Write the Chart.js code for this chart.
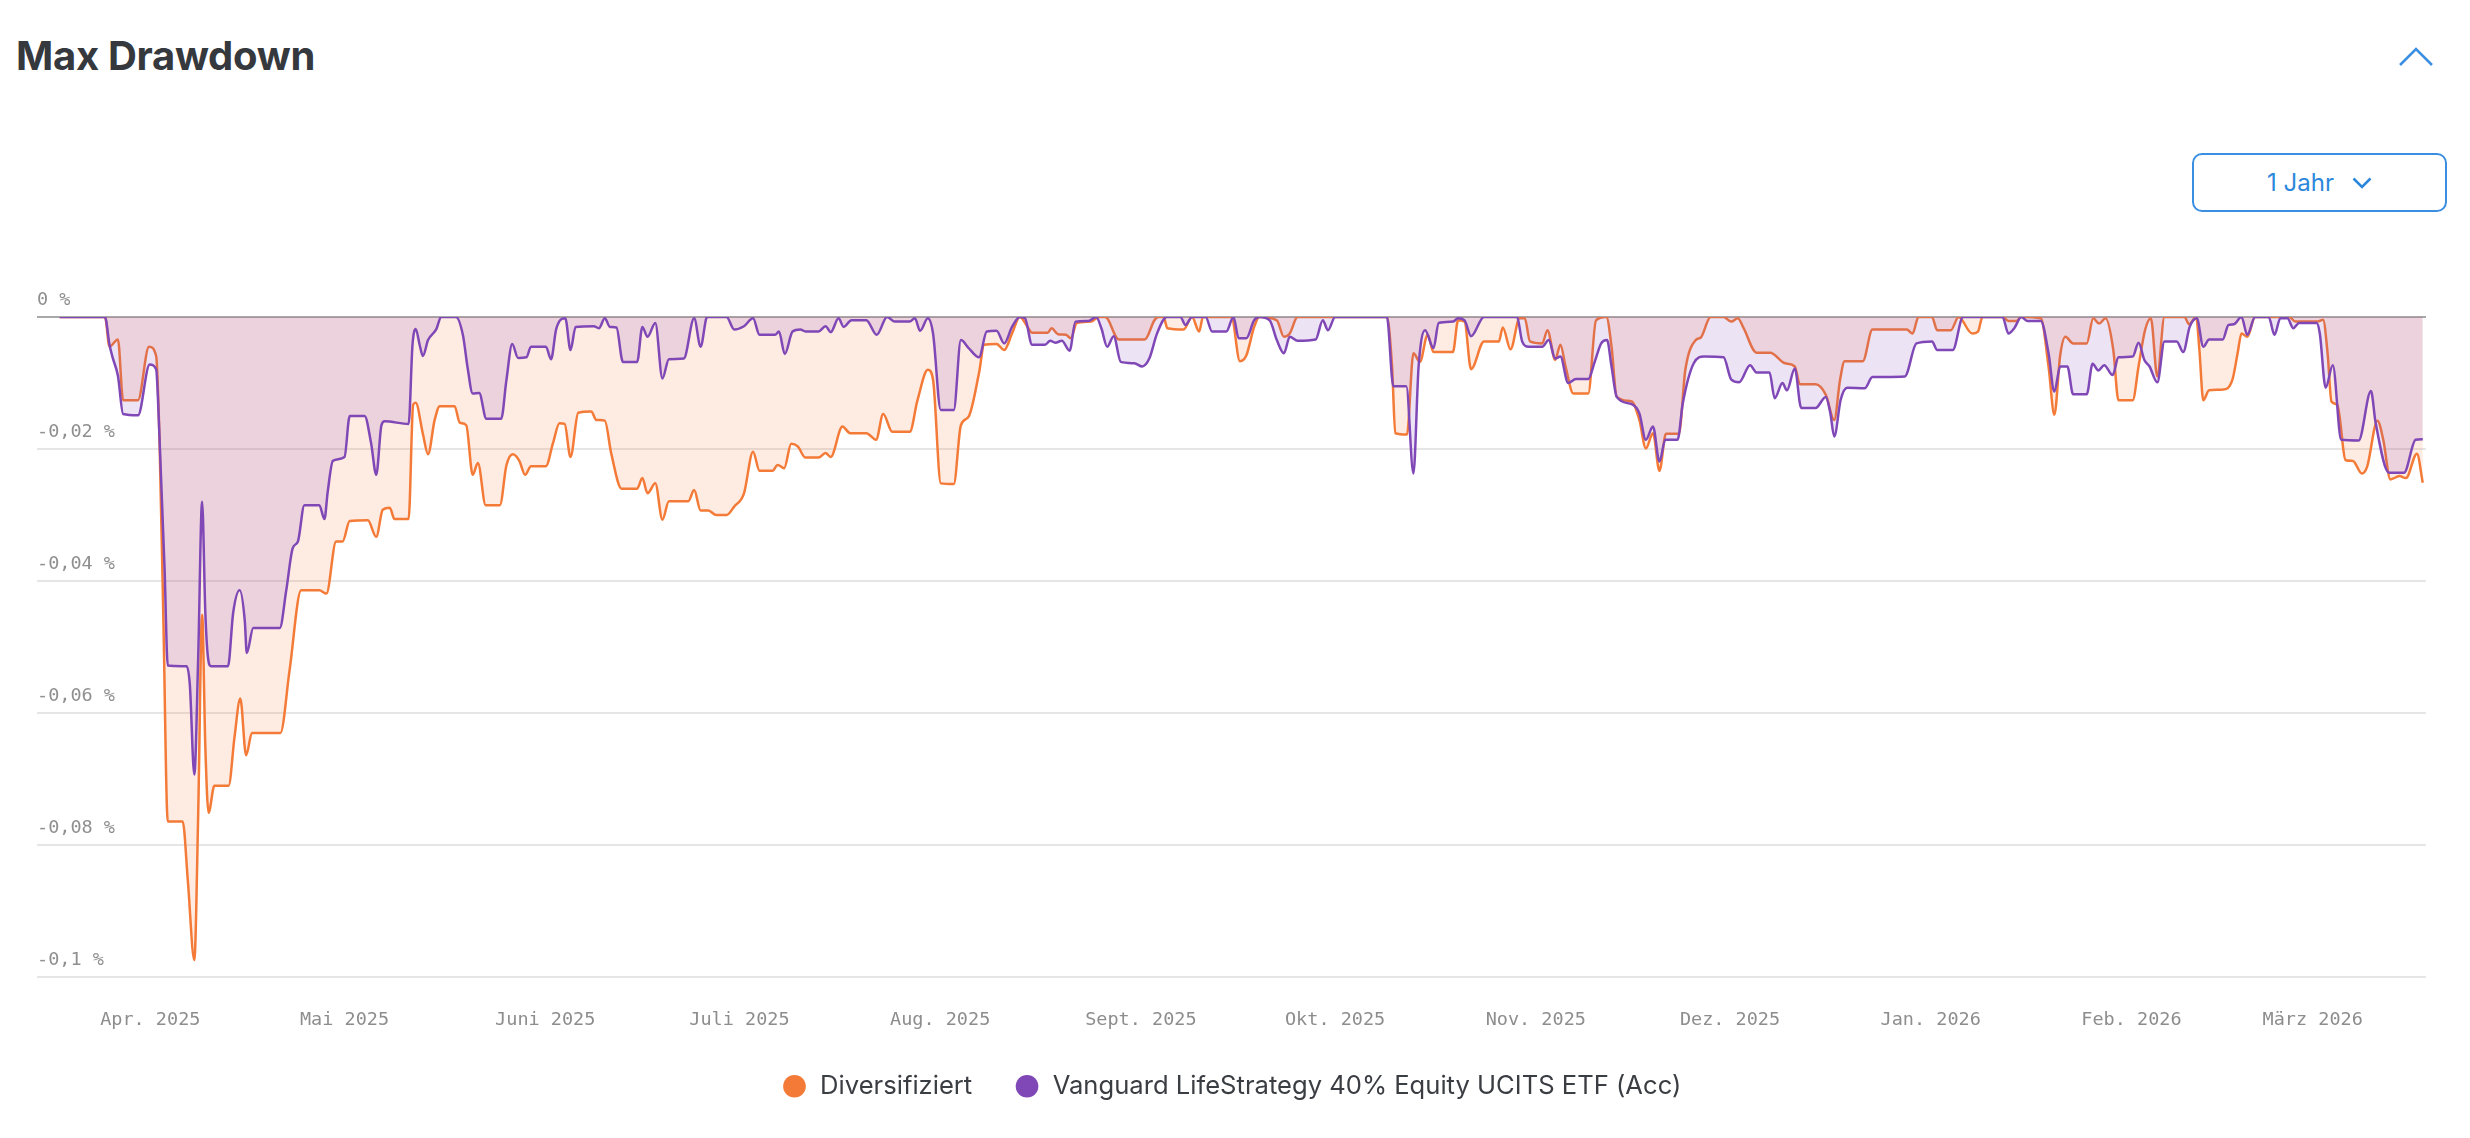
<!DOCTYPE html>
<html lang="de">
<head>
    <meta charset="UTF-8">
    <meta name="viewport" content="width=device-width, initial-scale=1.0">
    <title>Max Drawdown</title>
    <!-- Include Chart.js library -->
    <script src="https://cdn.jsdelivr.net/npm/chart.js"></script>
    <style>
        html, body { margin: 0; padding: 0; background: #fff; }
        body { width: 2470px; height: 1138px; position: relative; overflow: hidden; font-family: Inter, "Noto Sans", sans-serif; }
        h2 { position: absolute; left: 16px; top: 36px; margin: 0; font-size: 40px; line-height: 40px; font-weight: 700;
             letter-spacing: -0.3px; color: #35383d; }
        .collapse { position: absolute; left: 2396px; top: 44px; }
        .range { position: absolute; left: 2192px; top: 153px; width: 255px; height: 59px; box-sizing: border-box;
                 border: 2.5px solid #3b8fe0; border-radius: 10px; display: flex; align-items: center; justify-content: center;
                 gap: 18px; color: #2b87dc; font-size: 24px; line-height: 24px; }
        .range svg { display: block; }
        .chart-box { position: absolute; left: 0; top: 240px; width: 2470px; height: 898px; }
    </style>
</head>
<body>
    <h2>Max Drawdown</h2>
    <svg class="collapse" width="40" height="24"><polyline points="4,21 20,5 36,21" fill="none" stroke="#3b8fe0" stroke-width="2.5"/></svg>
    <div class="range"><span>1 Jahr</span><svg width="20" height="12"><polyline points="1.5,1.5 10,10 18.5,1.5" fill="none" stroke="#2b87dc" stroke-width="2.5"/></svg></div>

    <div class="chart-box">
        <!-- Canvas to draw the drawdown chart -->
        <canvas id="drawdownChart"></canvas>
    </div>

    <script>
        // Day 0 of the x axis
        var startDate = '2025-03-18';

        // Month ticks on the x axis
        var monthTickDates = ['2025-04-01', '2025-05-01', '2025-06-01', '2025-07-01', '2025-08-01', '2025-09-01',
                              '2025-10-01', '2025-11-01', '2025-12-01', '2026-01-01', '2026-02-01', '2026-03-01'];
        var monthTickLabels = ['Apr. 2025', 'Mai 2025', 'Juni 2025', 'Juli 2025', 'Aug. 2025', 'Sept. 2025',
                               'Okt. 2025', 'Nov. 2025', 'Dez. 2025', 'Jan. 2026', 'Feb. 2026', 'März 2026'];

        // Ticks on the y axis
        var yTickValues = [-0.1, -0.08, -0.06, -0.04, -0.02, 0];
        var yTickLabels = ['-0,1 %', '-0,08 %', '-0,06 %', '-0,04 %', '-0,02 %', '0 %'];

        var seriesNames = ['Diversifiziert', 'Vanguard LifeStrategy 40% Equity UCITS ETF (Acc)'];

        // Diversifiziert: days since start, drawdown in %
        var diversDays = [
            0, 7, 7.7, 9.0, 9.8, 12.1, 13.8, 14.9, 15.4, 16.0,
            16.7, 19.0, 19.8, 20.8, 21.4, 22.0, 22.5, 23.0, 23.9, 26.1,
            27.0, 27.9, 28.8, 29.7, 34.1, 35.5, 37.3, 40.1, 41.2, 42.7,
            43.7, 44.8, 47.6, 48.9, 49.9, 51.0, 51.7, 53.9, 54.6, 55.0,
            56.1, 56.9, 57.9, 58.7, 61.0, 61.8, 62.8, 63.8, 64.6, 65.8,
            68.0, 69.0, 70.0, 71.0, 71.9, 72.8, 75.1, 76.2, 77.2, 78.0,
            78.9, 80.1, 82.1, 82.9, 84.2, 85.2, 86.8, 89.2, 90.0, 90.8,
            92.0, 93.1, 94.1, 97.1, 98.0, 99.0, 100.2, 101.4, 103.0, 104.2,
            105.7, 107.1, 108.1, 110.1, 110.9, 111.9, 113.0, 114.0, 115.2, 117.2,
            118.3, 119.1, 120.9, 122.1, 124.6, 126.1, 127.2, 128.6, 131.3, 132.5,
            134.1, 134.9, 136.1, 138.1, 139.2, 140.4, 142.0, 142.8, 144.7, 145.9,
            147.1, 148.3, 149.5, 150.2, 152.6, 153.2, 154.2, 155.4, 156.2, 157.1,
            159.3, 160.5, 161.5, 163.6, 167.6, 169.1, 169.7, 170.5, 171.1, 173.6,
            174.9, 176.0, 176.6, 181.0, 182.3, 183.3, 184.5, 185.3, 188.0, 189.1,
            190.0, 191.2, 205.0, 205.8, 206.3, 208.1, 209.1, 210.1, 211.3, 212.2,
            215.2, 216.0, 217.0, 218.0, 220.0, 222.3, 222.9, 224.1, 225.5, 226.3,
            227.1, 229.0, 229.8, 231.0, 231.8, 232.6, 233.8, 236.1, 237.3, 238.9,
            239.7, 240.5, 242.8, 244.0, 245.0, 246.1, 247.1, 248.1, 250.1, 251.1,
            252.7, 253.5, 255.0, 257.0, 258.2, 259.2, 260.1, 262.1, 264.2, 266.5,
            268.0, 268.8, 271.2, 272.8, 274.1, 275.0, 275.7, 278.5, 280.0, 285.3,
            286.2, 287.1, 289.2, 290.0, 292.1, 293.3, 295.4, 296.3, 297.0, 300.1,
            301.0, 302.2, 303.0, 306.0, 307.2, 308.1, 309.0, 309.8, 311.0, 313.1,
            314.1, 315.0, 316.0, 317.2, 318.0, 320.2, 321.1, 322.1, 323.0, 324.0,
            325.1, 328.2, 328.9, 330.0, 330.5, 331.1, 332.0, 334.1, 335.6, 336.4,
            337.0, 337.9, 339.1, 344.4, 345.3, 348.8, 349.6, 350.3, 350.9, 351.8,
            353.1, 354.2, 355.6, 356.4, 358.0, 358.9, 360.0, 361.4, 362.4, 364.1,
            365.0
        ];
        var diversValues = [
            0, 0, -0.0045, -0.0034, -0.0126, -0.0126, -0.0045, -0.0059, -0.0177, -0.0448,
            -0.0764, -0.0764, -0.0854, -0.0974, -0.0752, -0.0451, -0.0651, -0.0751, -0.071, -0.071,
            -0.0637, -0.0578, -0.0664, -0.063, -0.063, -0.0536, -0.0414, -0.0414, -0.0419, -0.034,
            -0.034, -0.0309, -0.0308, -0.0333, -0.0292, -0.0289, -0.0306, -0.0306, -0.0133, -0.013,
            -0.0177, -0.0208, -0.0157, -0.0135, -0.0135, -0.016, -0.0164, -0.0239, -0.0221, -0.0285,
            -0.0285, -0.0225, -0.0208, -0.0218, -0.0239, -0.0226, -0.0226, -0.0191, -0.0161, -0.0162,
            -0.0212, -0.0145, -0.0143, -0.0156, -0.0157, -0.0207, -0.026, -0.026, -0.0244, -0.0267,
            -0.0252, -0.0307, -0.0279, -0.0279, -0.0262, -0.0293, -0.0293, -0.03, -0.03, -0.0287,
            -0.0267, -0.0204, -0.0233, -0.0233, -0.0224, -0.0229, -0.0192, -0.0196, -0.0213, -0.0213,
            -0.0206, -0.0212, -0.0166, -0.0176, -0.0176, -0.0186, -0.0147, -0.0174, -0.0174, -0.0126,
            -0.008, -0.0095, -0.0252, -0.0253, -0.0164, -0.0151, -0.0085, -0.0042, -0.0041, -0.005,
            -0.0025, 0, -0.0015, -0.0024, -0.0024, -0.0017, -0.0026, -0.0027, -0.0032, -0.0009,
            -0.0007, 0, 0, -0.0034, -0.0034, -0.0005, 0, 0, -0.0017, -0.0019,
            0, -0.0022, 0, 0, -0.0067, -0.0058, -0.0015, 0, -0.0005, -0.003,
            -0.0025, 0, 0, -0.0075, -0.0176, -0.0178, -0.0055, -0.0068, -0.0027, -0.0053,
            -0.0053, -0.0005, -0.0007, -0.0079, -0.0037, -0.0037, -0.0016, -0.0049, -0.0002, -0.0002,
            -0.0037, -0.004, -0.002, -0.0065, -0.0042, -0.0075, -0.0116, -0.0116, -0.0005, 0,
            -0.0045, -0.0121, -0.0128, -0.0156, -0.0199, -0.0176, -0.0233, -0.0177, -0.0177, -0.008,
            -0.0035, -0.0031, 0, 0, -0.0007, -0.0002, -0.0017, -0.0054, -0.0054, -0.007,
            -0.0075, -0.0102, -0.0102, -0.0118, -0.0156, -0.0095, -0.0067, -0.0067, -0.0019, -0.0019,
            -0.0025, 0, 0, -0.002, -0.002, 0, -0.0025, -0.0022, 0, 0,
            -0.0006, -0.0006, 0, -0.0002, -0.0075, -0.0148, -0.0058, -0.003, -0.004, -0.004,
            -0.0002, -0.001, -0.0002, -0.005, -0.0126, -0.0126, -0.0075, -0.002, -0.0002, -0.009,
            0, 0, -0.0011, 0, -0.005, -0.0126, -0.0111, -0.011, -0.0095, -0.0055,
            -0.0025, -0.003, 0, 0, -0.0007, -0.0007, -0.0004, -0.0055, -0.0128, -0.0133,
            -0.0217, -0.0218, -0.0237, -0.0227, -0.0157, -0.0186, -0.0246, -0.0241, -0.0244, -0.0207,
            -0.0251
        ];

        // Vanguard LifeStrategy 40%: days since start, drawdown in %
        var vanguardDays = [
            0, 7, 7.7, 8.2, 9.0, 9.8, 12.1, 13.9, 14.9, 15.4,
            16.2, 16.7, 19.6, 20.1, 20.8, 21.4, 22.0, 22.5, 22.9, 23.4,
            26.0, 26.8, 27.8, 28.6, 28.9, 29.9, 34.0, 35.0, 36.0, 36.8,
            37.8, 40.1, 40.9, 41.4, 42.2, 44.0, 44.8, 47.1, 48.1, 48.9,
            49.7, 50.2, 53.9, 54.5, 55.0, 55.6, 56.1, 56.9, 58.2, 58.9,
            61.2, 62.3, 63.0, 63.8, 64.8, 65.9, 68.2, 69.0, 69.9, 70.8,
            72.1, 72.8, 75.1, 75.9, 76.7, 78.1, 78.9, 79.7, 82.5, 83.3,
            84.2, 85.0, 86.0, 87.0, 89.2, 90.0, 90.8, 92.0, 93.1, 94.1,
            96.4, 98.0, 99.0, 100.0, 103.0, 104.2, 105.7, 107.1, 108.1, 110.5,
            111.1, 112.0, 113.2, 114.4, 115.2, 117.2, 118.3, 119.1, 120.3, 121.1,
            122.3, 124.6, 126.2, 127.8, 129.0, 131.3, 132.1, 132.9, 134.1, 134.9,
            136.1, 138.1, 139.2, 140.4, 142.0, 143.2, 144.7, 145.9, 147.1, 148.3,
            149.1, 150.2, 152.2, 153.0, 153.8, 154.8, 156.0, 156.9, 158.9, 160.1,
            160.9, 161.8, 162.8, 163.9, 166.0, 167.2, 168.3, 169.5, 171.0, 173.1,
            173.9, 174.9, 177.0, 178.0, 180.2, 181.3, 182.1, 183.3, 184.5, 185.3,
            186.9, 188.0, 189.1, 190.0, 191.2, 194.0, 195.1, 195.9, 197.0, 205.0,
            206.0, 208.0, 209.1, 209.9, 210.9, 212.2, 213.0, 215.2, 216.0, 217.0,
            218.0, 220.0, 225.1, 225.9, 226.9, 229.0, 230.0, 231.0, 231.8, 233.0,
            234.2, 236.1, 237.1, 238.1, 239.0, 239.7, 240.5, 242.8, 244.0, 245.0,
            246.1, 247.1, 248.0, 249.9, 250.7, 252.4, 254.0, 257.0, 258.2, 259.4,
            261.1, 262.1, 264.1, 264.9, 266.1, 266.8, 268.0, 269.0, 271.2, 272.8,
            273.5, 274.1, 275.1, 276.1, 278.8, 280.0, 285.0, 286.8, 289.2, 290.0,
            292.4, 294.0, 300.1, 301.0, 301.9, 303.0, 303.9, 306.0, 307.2, 308.1,
            309.0, 310.1, 311.0, 313.1, 314.0, 314.9, 315.8, 317.1, 318.0, 320.2,
            321.1, 322.0, 322.8, 324.0, 325.1, 327.0, 328.0, 329.0, 330.1, 331.1,
            332.0, 334.1, 335.0, 335.8, 337.0, 337.9, 339.1, 341.2, 342.1, 343.0,
            344.1, 345.0, 345.9, 348.6, 349.1, 350.0, 351.1, 352.4, 355.1, 357.0,
            357.7, 359.8, 362.1, 363.9, 365.0
        ];
        var vanguardValues = [
            0, 0, -0.0042, -0.0062, -0.0089, -0.0147, -0.0149, -0.0072, -0.0079, -0.0177,
            -0.038, -0.0528, -0.0529, -0.0556, -0.0693, -0.0515, -0.028, -0.0448, -0.0515, -0.0529,
            -0.0529, -0.0448, -0.0414, -0.0461, -0.0509, -0.0471, -0.0471, -0.0414, -0.035, -0.034,
            -0.0285, -0.0285, -0.0306, -0.0265, -0.0218, -0.0212, -0.015, -0.015, -0.0191, -0.0239,
            -0.0164, -0.0158, -0.0162, -0.0042, -0.0018, -0.0042, -0.0059, -0.0035, -0.0018, 0,
            0, -0.0028, -0.0076, -0.0116, -0.0115, -0.0154, -0.0154, -0.0096, -0.0041, -0.0062,
            -0.0061, -0.0045, -0.0045, -0.0064, -0.0018, -0.0002, -0.005, -0.0015, -0.0014, -0.0017,
            -0.0002, -0.0015, -0.0016, -0.0068, -0.0068, -0.0015, -0.003, -0.0009, -0.0093, -0.0064,
            -0.0063, -0.0002, -0.0045, 0, 0, -0.0019, -0.0014, -0.0002, -0.0027, -0.0027,
            -0.0022, -0.0056, -0.0022, -0.0019, -0.0022, -0.0022, -0.0014, -0.0023, -0.0002, -0.0015,
            -0.0005, -0.0005, -0.0027, 0, -0.0007, -0.0007, -0.0002, -0.0021, -0.0002, -0.0025,
            -0.0141, -0.0141, -0.0035, -0.0047, -0.0061, -0.0022, -0.0021, -0.004, -0.0015, 0,
            -0.0002, -0.0042, -0.0042, -0.0036, -0.0039, -0.0036, -0.0051, -0.0007, -0.0006, 0,
            -0.0017, -0.0045, -0.0029, -0.0068, -0.007, -0.0075, -0.0063, -0.0025, 0, 0,
            -0.0012, 0, 0, -0.0022, -0.0022, 0, -0.0032, -0.0032, -0.0005, 0,
            -0.0005, -0.0035, -0.0055, -0.003, -0.0036, -0.0034, -0.0005, -0.002, 0, 0,
            -0.0105, -0.0105, -0.0237, -0.0075, -0.002, -0.0047, -0.0009, -0.0007, -0.0002, -0.0005,
            -0.0029, 0, 0, -0.0037, -0.0045, -0.0045, -0.0035, -0.0063, -0.006, -0.01,
            -0.0094, -0.0094, -0.0068, -0.004, -0.0035, -0.0075, -0.0121, -0.0132, -0.0146, -0.0186,
            -0.0166, -0.0219, -0.0186, -0.0186, -0.0131, -0.007, -0.006, -0.0061, -0.0095, -0.0099,
            -0.0073, -0.0084, -0.0084, -0.0123, -0.01, -0.0111, -0.0078, -0.0138, -0.0138, -0.0121,
            -0.0146, -0.0181, -0.0125, -0.0107, -0.0108, -0.0091, -0.009, -0.004, -0.0037, -0.005,
            -0.005, 0, 0, -0.0025, -0.0017, 0, -0.0006, -0.0006, -0.0055, -0.0113,
            -0.0075, -0.0075, -0.0117, -0.0117, -0.0071, -0.0081, -0.0073, -0.0088, -0.0061, -0.006,
            -0.0039, -0.0065, -0.0075, -0.0099, -0.0037, -0.0037, -0.0053, -0.0015, -0.0002, -0.0045,
            -0.0034, -0.0034, -0.0012, -0.0011, 0, -0.0027, 0, 0, -0.0027, -0.0002,
            -0.0002, -0.0017, -0.0009, -0.0009, -0.0025, -0.0107, -0.0073, -0.0186, -0.0187, -0.0112,
            -0.0159, -0.0236, -0.0236, -0.0186, -0.0185
        ];

        // Convert a date string to a day number on the x axis
        function dayIndex(dateString) {
            return (Date.parse(dateString) - Date.parse(startDate)) / 86400000;
        }

        // Pair days and values into points
        function toPoints(days, values) {
            return days.map(function (d, i) { return { x: d, y: values[i] }; });
        }

        var monthTickDays = monthTickDates.map(dayIndex);
        var tickFont = { family: 'DejaVu Sans Mono', size: 18.5 };

        var ctx = document.getElementById('drawdownChart').getContext('2d');

        new Chart(ctx, {
            type: 'line',
            data: {
                datasets: [{
                    label: seriesNames[0],
                    data: toPoints(diversDays, diversValues),
                    borderColor: '#f47a37',
                    backgroundColor: 'rgba(245, 110, 50, 0.14)',
                    fill: 'origin',
                    order: 1
                }, {
                    label: seriesNames[1],
                    data: toPoints(vanguardDays, vanguardValues),
                    borderColor: '#8048b7',
                    backgroundColor: 'rgba(130, 70, 190, 0.15)',
                    fill: 'origin',
                    order: 0
                }]
            },
            options: {
                animation: false,
                responsive: true,
                maintainAspectRatio: false,
                layout: { padding: { top: 77, left: 37, right: 44, bottom: 29 } },
                elements: {
                    point: { radius: 0, hoverRadius: 0 },
                    line: { borderWidth: 2.5, cubicInterpolationMode: 'monotone' }
                },
                plugins: {
                    tooltip: { enabled: false },
                    legend: {
                        position: 'bottom',
                        labels: {
                            usePointStyle: true,
                            pointStyle: 'circle',
                            boxWidth: 26,
                            boxHeight: 16,
                            padding: 42,
                            color: '#3a3d42',
                            font: { family: 'Inter', size: 25.6 },
                            generateLabels: function (chart) {
                                return chart.data.datasets.map(function (ds, i) {
                                    return {
                                        text: ds.label,
                                        fillStyle: ds.borderColor,
                                        strokeStyle: ds.borderColor,
                                        lineWidth: 0,
                                        pointStyle: 'circle',
                                        fontColor: '#3a3d42',
                                        hidden: !chart.isDatasetVisible(i),
                                        datasetIndex: i
                                    };
                                });
                            }
                        }
                    }
                },
                scales: {
                    x: {
                        type: 'linear',
                        bounds: 'data',
                        min: -3.5,
                        max: 365.5,
                        // grid hidden; tickLength only sets the gap above the labels
                        grid: { display: false, drawTicks: true, tickLength: 32 },
                        border: { display: false },
                        afterBuildTicks: function (scale) {
                            scale.ticks = monthTickDays.map(function (v) { return { value: v }; });
                        },
                        ticks: {
                            autoSkip: false,
                            maxRotation: 0,
                            padding: 0,
                            color: '#8d8d8d',
                            font: tickFont,
                            callback: function (value, index) { return monthTickLabels[index]; }
                        }
                    },
                    y: {
                        bounds: 'data',
                        min: -0.1,
                        max: 0,
                        afterBuildTicks: function (scale) {
                            scale.ticks = yTickValues.map(function (v) { return { value: v }; });
                        },
                        afterFit: function (scale) { scale.width = 0; },
                        grid: {
                            drawTicks: false,
                            lineWidth: 2,
                            color: function (c) { return c.tick && c.tick.value === 0 ? '#a8a8a8' : '#e6e6e6'; }
                        },
                        border: { display: false },
                        ticks: {
                            mirror: true,
                            padding: 0,
                            labelOffset: -17,
                            color: '#8f8f8f',
                            font: tickFont,
                            callback: function (value, index) { return yTickLabels[index]; }
                        }
                    }
                }
            }
        });
    </script>
</body>
</html>
